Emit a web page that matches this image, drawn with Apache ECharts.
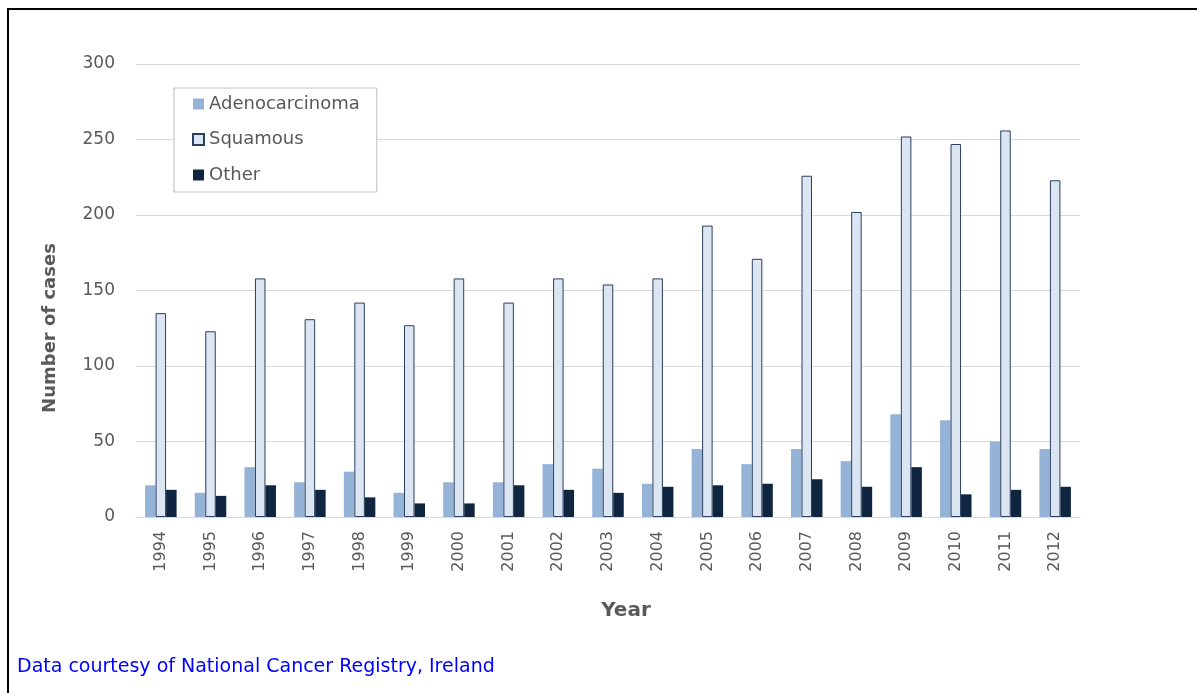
<!DOCTYPE html>
<html>
<head>
<meta charset="utf-8">
<script src="https://cdn.jsdelivr.net/npm/echarts@6/dist/echarts.min.js"></script>
<style>
html,body{margin:0;padding:0;background:#fff;}
#chart{width:1197px;height:693px;}
</style>
</head>
<body>
<div id="chart"></div>
<script>
const years = ['1994','1995','1996','1997','1998','1999','2000','2001','2002','2003','2004','2005','2006','2007','2008','2009','2010','2011','2012'];
const adenocarcinoma = [21,16,33,23,30,16,23,23,35,32,22,45,35,45,37,68,64,50,45];
const squamous = [135,123,158,131,142,127,158,142,158,154,158,193,171,226,202,252,247,256,223];
const other = [18,14,21,18,13,9,9,21,18,16,20,21,22,25,20,33,15,18,20];
const yTicks = {min:0, max:300, interval:50};

const FONT = 'DejaVu Sans';
const chart = echarts.init(document.getElementById('chart'));
chart.setOption({
  animation:false,
  backgroundColor:'#ffffff',
  grid:{left:136, right:117, top:64, bottom:176, containLabel:false},
  legend:{
    orient:'vertical', left:174, top:88,
    padding:[7,17,8,18],
    itemWidth:11, itemHeight:11, itemGap:17.5,
    borderColor:'#bfbfbf', borderWidth:1, backgroundColor:'#ffffff',
    textStyle:{fontFamily:FONT, fontSize:18, color:'#595959'},
    data:[
      {name:'Adenocarcinoma', icon:'rect'},
      {name:'Squamous', icon:'rect'},
      {name:'Other', icon:'rect'}
    ]
  },
  xAxis:{
    type:'category', data:years,
    axisLine:{lineStyle:{color:'#d9d9d9', width:1}},
    axisTick:{show:false},
    axisLabel:{rotate:90, margin:14, fontFamily:FONT, fontSize:16, color:'#595959', interval:0}
  },
  yAxis:{
    type:'value', min:yTicks.min, max:yTicks.max, interval:yTicks.interval,
    axisLine:{show:false}, axisTick:{show:false},
    splitLine:{lineStyle:{color:'#d9d9d9', width:1}},
    axisLabel:{margin:21, fontFamily:FONT, fontSize:17, color:'#595959'}
  },
  series:[
    {name:'Adenocarcinoma', type:'bar', data:adenocarcinoma, barWidth:10.5, barGap:'0%',
     itemStyle:{color:'#95b3d7'}},
    {name:'Squamous', type:'bar', data:squamous, barWidth:10.5, barGap:'0%',
     itemStyle:{color:'#dce6f2', borderColor:'#2b3f5e', borderWidth:1}},
    {name:'Other', type:'bar', data:other, barWidth:10.5, barGap:'0%',
     itemStyle:{color:'#10253f'}}
  ],
  graphic:[
    {type:'line', shape:{x1:8, y1:9, x2:1197, y2:9}, style:{stroke:'#000', lineWidth:2}},
    {type:'line', shape:{x1:8, y1:8, x2:8, y2:693}, style:{stroke:'#000', lineWidth:2}},
    {type:'text', x:50, y:328, rotation:Math.PI/2,
     style:{text:'Number of cases', fontFamily:FONT, fontWeight:'bold', fontSize:18, fill:'#595959', align:'center', verticalAlign:'middle'}},
    {type:'text', x:626, y:611,
     style:{text:'Year', fontFamily:FONT, fontWeight:'bold', fontSize:20, fill:'#595959', align:'center', verticalAlign:'middle'}},
    {type:'text', x:17, y:667,
     style:{text:'Data courtesy of National Cancer Registry, Ireland', fontFamily:FONT, fontSize:19, fill:'#0000ff', align:'left', verticalAlign:'middle'}}
  ]
});
</script>
</body>
</html>
